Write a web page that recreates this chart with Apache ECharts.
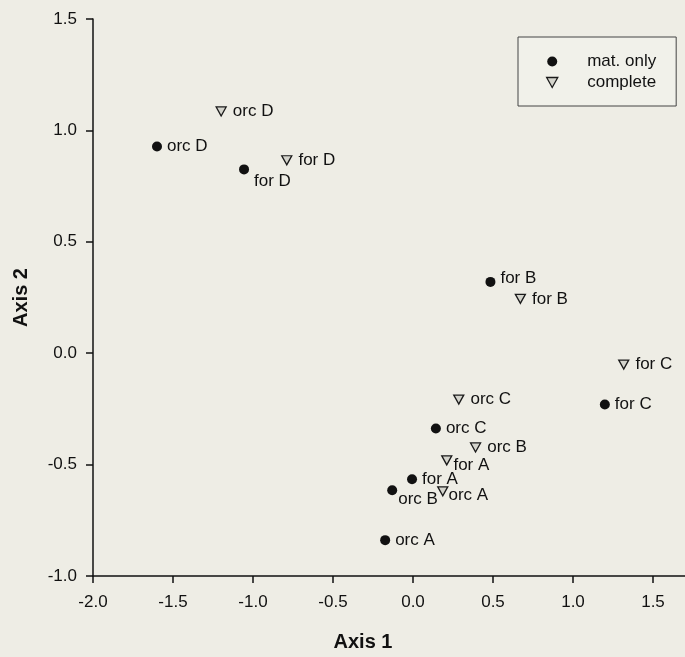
<!DOCTYPE html>
<html>
<head>
<meta charset="utf-8">
<script src="https://cdn.jsdelivr.net/npm/echarts@6/dist/echarts.min.js"></script>
<style>
html,body{margin:0;padding:0;background:#eeede5;}
#chart{width:685px;height:657px;}
</style>
</head>
<body>
<div id="chart"></div>
<script>
// ---- data ----
const pointNames = ['orc A','orc B','orc C','orc D','for A','for B','for C','for D'];
const matOnlyX   = [-0.174, -0.13, 0.143, -1.60, -0.006, 0.484, 1.199, -1.056];
const matOnlyY   = [-0.839, -0.615, -0.338, 0.928, -0.566, 0.320, -0.230, 0.825];
const completeX  = [0.186, 0.391, 0.286, -1.199, 0.211, 0.671, 1.317, -0.789];
const completeY  = [-0.620, -0.423, -0.208, 1.085, -0.481, 0.244, -0.051, 0.866];
const seriesNames = ['mat. only', 'complete'];
const xTicks = [-2.0, -1.5, -1.0, -0.5, 0.0, 0.5, 1.0, 1.5];
const yTicks = [-1.0, -0.5, 0.0, 0.5, 1.0, 1.5];

// ---- label offsets (styling) ----
const matOnlyLabelOffset = {'orc B':[-4,9], 'for D':[0,12], 'for B':[0,-4]};
const completeLabelOffset = {'for A':[-5,5], 'orc A':[-6,4]};

const FONT = 'Liberation Sans, Arial, sans-serif';
const INK = '#111111';
const DOWN_TRI = 'path://M0,0 L10,0 L5,9 Z';

function build(xs, ys, offs){
  return pointNames.map((n,i)=>{
    const d = {name:n, value:[xs[i], ys[i]]};
    if (offs[n]) d.label = {offset: offs[n]};
    return d;
  });
}

const chart = echarts.init(document.getElementById('chart'), null, {renderer:'canvas'});
chart.setOption({
  backgroundColor:'#eeede5',
  animation:false,
  textStyle:{fontFamily:FONT},
  grid:{left:93, top:19, bottom:79, right:-4},
  xAxis:{
    type:'value', min:xTicks[0], max:1.7, interval:0.5,
    name:'Axis 1', nameLocation:'middle', nameGap:56,
    nameTextStyle:{fontSize:20, fontWeight:'bold', color:INK, fontFamily:FONT, padding:[0,52,0,0]},
    axisLine:{show:true, onZero:false, lineStyle:{color:INK, width:1.5}},
    axisTick:{show:true, length:7, lineStyle:{color:INK, width:1.5}},
    axisLabel:{color:INK, fontSize:17, margin:18, fontFamily:FONT, showMaxLabel:false,
      formatter:v=>v.toFixed(1)},
    splitLine:{show:false}
  },
  yAxis:{
    type:'value', min:yTicks[0], max:yTicks[yTicks.length-1], interval:0.5,
    name:'Axis 2', nameLocation:'middle', nameGap:62, nameRotate:90,
    nameTextStyle:{fontSize:20, fontWeight:'bold', color:INK, fontFamily:FONT},
    axisLine:{show:true, onZero:false, lineStyle:{color:INK, width:1.5}},
    axisTick:{show:true, length:7, lineStyle:{color:INK, width:1.5}},
    axisLabel:{color:INK, fontSize:17, margin:16, fontFamily:FONT,
      formatter:v=>v.toFixed(1)},
    splitLine:{show:false}
  },
  legend:{
    orient:'vertical', left:518, top:37,
    padding:[16,20,15,28], itemGap:4,
    itemWidth:14, itemHeight:10,
    backgroundColor:'#f1f1ea', borderColor:'#444', borderWidth:1,
    textStyle:{fontSize:17, color:INK, fontFamily:FONT, padding:[0,0,0,23]},
    data:[
      {name:seriesNames[0], icon:'circle', itemStyle:{color:'#111', opacity:1}},
      {name:seriesNames[1], icon:DOWN_TRI, itemStyle:{color:'#d4d4cc', borderColor:'#1a1a1a', borderWidth:1.3, opacity:1}}
    ]
  },
  series:[
    {
      name:seriesNames[0], type:'scatter', symbol:'circle', symbolSize:10,
      itemStyle:{color:'#111', opacity:1},
      label:{show:true, position:'right', distance:5, formatter:'{b}', color:INK, opacity:1, fontSize:17, fontFamily:FONT},
      data:build(matOnlyX, matOnlyY, matOnlyLabelOffset)
    },
    {
      name:seriesNames[1], type:'scatter', symbol:'triangle', symbolSize:[10,9], symbolRotate:180,
      itemStyle:{color:'#d4d4cc', borderColor:'#1a1a1a', borderWidth:1.3, opacity:1},
      label:{show:true, position:'right', distance:6, formatter:'{b}', color:INK, opacity:1, fontSize:17, fontFamily:FONT},
      data:build(completeX, completeY, completeLabelOffset)
    }
  ]
});
</script>
</body>
</html>
